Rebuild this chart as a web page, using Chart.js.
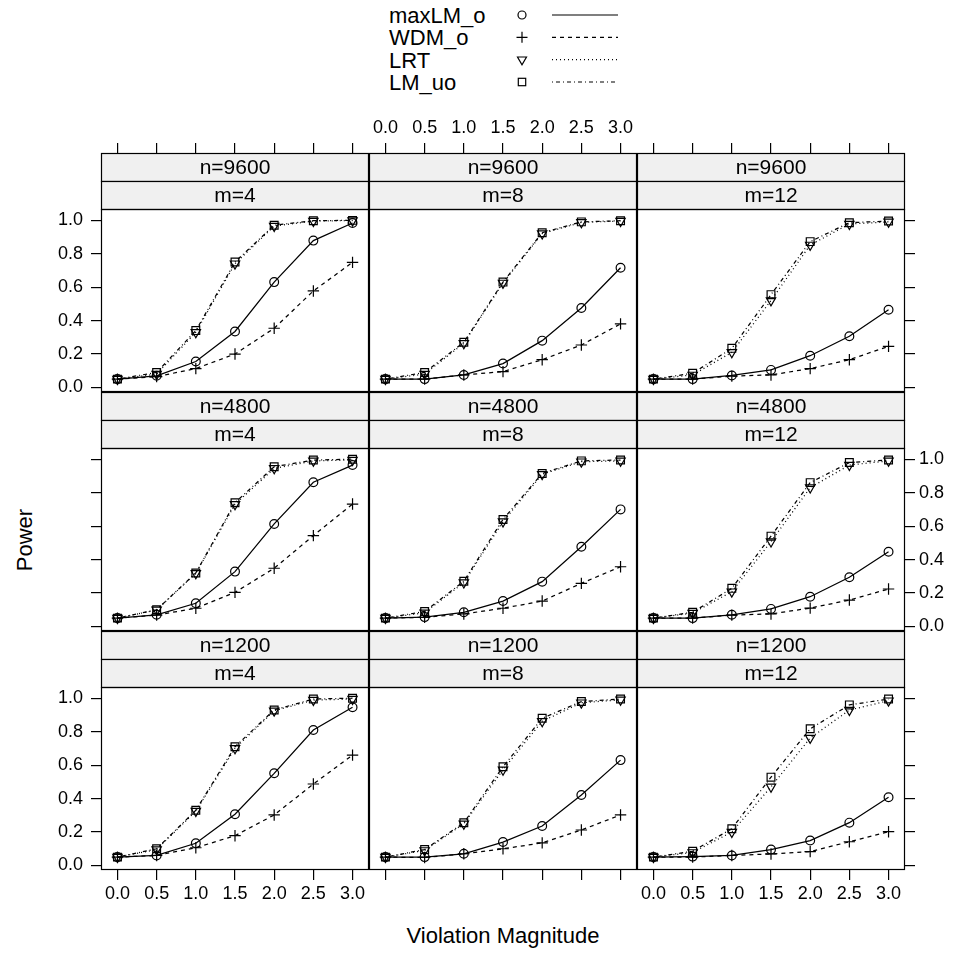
<!DOCTYPE html>
<html>
<head>
<meta charset="utf-8">
<title>Power by violation magnitude</title>
<script src="https://cdn.jsdelivr.net/npm/chart.js@4.4.1/dist/chart.umd.min.js"></script>
<style>
  body { margin: 0; background: #fff; font-family: "Liberation Sans", Arial, sans-serif; }
  #page { position: relative; width: 956px; height: 953px; overflow: hidden; background: #fff; }
  #page canvas { position: absolute; }
  .axis-title { position: absolute; font-size: 22px; color: #000; white-space: nowrap; }
</style>
</head>
<body>
<div id="page">
  <svg id="key" width="956" height="100" style="position:absolute;left:0;top:0"></svg>
  <div class="axis-title" style="left:25px;top:540px;transform:translate(-50%,-50%) rotate(-90deg)">Power</div>
  <div class="axis-title" style="left:503px;top:936px;transform:translate(-50%,-50%)">Violation Magnitude</div>
</div>
<script>
const magnitudes = [0, 0.5, 1.0, 1.5, 2.0, 2.5, 3.0];
const sampleSizes = [9600, 4800, 1200];   // panel rows
const mValues = [4, 8, 12];               // panel columns
const xTicks = [0, 0.5, 1.0, 1.5, 2.0, 2.5, 3.0];
const yTicks = [0, 0.2, 0.4, 0.6, 0.8, 1.0];

// power values, [row][col][magnitude]
const maxLM_o = [
  [[0.05, 0.07, 0.155, 0.335, 0.63, 0.878, 0.983],
   [0.05, 0.05, 0.075, 0.143, 0.28, 0.475, 0.716],
   [0.05, 0.05, 0.072, 0.105, 0.19, 0.306, 0.465]],
  [[0.05, 0.07, 0.139, 0.328, 0.613, 0.862, 0.965],
   [0.05, 0.056, 0.085, 0.152, 0.268, 0.477, 0.70],
   [0.05, 0.05, 0.07, 0.105, 0.178, 0.294, 0.447]],
  [[0.05, 0.06, 0.133, 0.306, 0.551, 0.81, 0.946],
   [0.05, 0.05, 0.07, 0.14, 0.236, 0.421, 0.63],
   [0.05, 0.053, 0.06, 0.095, 0.149, 0.256, 0.408]]
];
const WDM_o = [
  [[0.05, 0.065, 0.113, 0.2, 0.354, 0.577, 0.748],
   [0.05, 0.05, 0.075, 0.095, 0.166, 0.254, 0.38],
   [0.05, 0.05, 0.068, 0.075, 0.113, 0.166, 0.246]],
  [[0.05, 0.068, 0.109, 0.204, 0.348, 0.543, 0.732],
   [0.05, 0.055, 0.075, 0.109, 0.152, 0.258, 0.357],
   [0.05, 0.05, 0.068, 0.075, 0.11, 0.158, 0.224]],
  [[0.05, 0.06, 0.106, 0.178, 0.302, 0.487, 0.66],
   [0.05, 0.048, 0.07, 0.1, 0.135, 0.212, 0.302],
   [0.05, 0.05, 0.06, 0.069, 0.083, 0.142, 0.202]]
];
const LRT = [
  [[0.05, 0.08, 0.33, 0.74, 0.965, 0.995, 0.998],
   [0.05, 0.08, 0.264, 0.625, 0.92, 0.987, 0.995],
   [0.05, 0.075, 0.21, 0.52, 0.852, 0.977, 0.99]],
  [[0.05, 0.099, 0.318, 0.73, 0.945, 0.99, 0.995],
   [0.05, 0.082, 0.262, 0.627, 0.91, 0.985, 0.99],
   [0.05, 0.08, 0.208, 0.507, 0.83, 0.965, 0.99]],
  [[0.05, 0.095, 0.325, 0.70, 0.925, 0.989, 0.995],
   [0.05, 0.09, 0.249, 0.572, 0.862, 0.973, 0.99],
   [0.05, 0.078, 0.2, 0.47, 0.762, 0.929, 0.985]]
];
const LM_uo = [
  [[0.05, 0.09, 0.34, 0.75, 0.97, 0.997, 0.999],
   [0.05, 0.09, 0.27, 0.63, 0.925, 0.99, 0.997],
   [0.05, 0.085, 0.234, 0.555, 0.872, 0.985, 0.995]],
  [[0.05, 0.1, 0.32, 0.74, 0.955, 0.995, 1.0],
   [0.05, 0.09, 0.27, 0.64, 0.915, 0.99, 0.995],
   [0.05, 0.085, 0.228, 0.54, 0.86, 0.98, 0.995]],
  [[0.05, 0.1, 0.33, 0.71, 0.93, 0.995, 1.0],
   [0.05, 0.095, 0.255, 0.59, 0.88, 0.98, 0.995],
   [0.05, 0.085, 0.22, 0.528, 0.817, 0.96, 0.995]]
];

// drawing styles for each method (lattice-ish b/w)
const methods = [
  { label: 'maxLM_o', values: maxLM_o, point: 'circle', radius: 4.4, rot: 0, dash: [] },
  { label: 'WDM_o', values: WDM_o, point: 'cross', radius: 5.7, rot: 0, dash: [4, 4] },
  { label: 'LRT', values: LRT, point: 'triangle', radius: 5.4, rot: 180, dash: [1, 3] },
  { label: 'LM_uo', values: LM_uo, point: 'rect', radius: 5.5, rot: 0, dash: [1, 3, 4, 3] }
];

// layout
const colLeft = [101, 369, 637];
const plotTop = [209, 448, 687];
const PANEL_W = 268, PANEL_H = 183, STRIP_H = 28;
const SIDE = 60, BOTTOM = 40, TOPAXIS = 50;
const FONT = '"Liberation Sans", Arial, sans-serif';
const TICK_FONT = { family: FONT, size: 18 };

Chart.defaults.font.family = FONT;
Chart.defaults.color = '#000';

const fixWidth = w => s => { s.width = w; s.paddingTop = 0; s.paddingBottom = 0; };
const fixHeight = h => s => { s.height = h; s.paddingLeft = 0; s.paddingRight = 0; };
const setTicks = vals => s => { s.ticks = vals.map(v => ({ value: v })); };

// strips + panel box
const panelFrame = {
  id: 'panelFrame',
  afterDraw(chart, args, opts) {
    const { ctx, chartArea: a } = chart;
    ctx.save();
    ctx.lineWidth = 1.2;
    ctx.strokeStyle = '#000';
    const texts = [opts.top, opts.bottom];
    for (let i = 0; i < 2; i++) {
      const y = a.top - STRIP_H * (2 - i);
      ctx.fillStyle = '#f0f0f0';
      ctx.fillRect(a.left, y, a.right - a.left, STRIP_H);
      ctx.strokeRect(a.left + 0.5, y + 0.5, a.right - a.left - 1, STRIP_H);
      ctx.fillStyle = '#000';
      ctx.font = '21px ' + FONT;
      ctx.textAlign = 'center';
      ctx.textBaseline = 'middle';
      ctx.fillText(texts[i], (a.left + a.right) / 2, y + STRIP_H / 2 + 1);
    }
    ctx.strokeRect(a.left + 0.5, a.top + 0.5, a.right - a.left - 1, a.bottom - a.top - 1);
    ctx.restore();
  }
};

function axisX(position, weight, size, marks, labels, pad) {
  return {
    type: 'linear', position, weight, min: -0.21, max: 3.21,
    afterFit: fixHeight(size),
    afterBuildTicks: setTicks(xTicks),
    border: { display: false },
    grid: { display: marks, drawOnChartArea: false, drawTicks: true, tickLength: 10, color: '#000', lineWidth: 1.2 },
    ticks: { display: labels, font: TICK_FONT, color: '#000', padding: pad,
             maxRotation: 0, minRotation: 0, autoSkip: false, callback: v => v.toFixed(1) }
  };
}
function axisY(position, marks, labels, pad) {
  return {
    type: 'linear', position, min: -0.027, max: 1.067,
    afterFit: fixWidth(SIDE),
    afterBuildTicks: setTicks(yTicks),
    border: { display: false },
    grid: { display: marks, drawOnChartArea: false, drawTicks: true, tickLength: 10, color: '#000', lineWidth: 1.2 },
    ticks: { display: labels, font: TICK_FONT, color: '#000', padding: pad,
             autoSkip: false, callback: v => v.toFixed(1) }
  };
}

const page = document.getElementById('page');
for (let r = 0; r < 3; r++) {
  for (let c = 0; c < 3; c++) {
    const canvas = document.createElement('canvas');
    const w = PANEL_W + 2 * SIDE;
    const h = PANEL_H + 2 * STRIP_H + TOPAXIS + BOTTOM;
    canvas.width = w; canvas.height = h;
    canvas.style.left = (colLeft[c] - SIDE) + 'px';
    canvas.style.top = (plotTop[r] - 2 * STRIP_H - TOPAXIS) + 'px';
    canvas.style.width = w + 'px'; canvas.style.height = h + 'px';
    page.appendChild(canvas);

    const datasets = methods.map((m, i) => ({
      label: m.label,
      data: magnitudes.map((x, k) => ({ x, y: m.values[r][c][k] })),
      borderColor: '#000',
      borderWidth: 1.25,
      borderDash: m.dash,
      tension: 0,
      fill: false,
      pointStyle: m.point,
      pointRadius: m.radius,
      pointRotation: m.rot,
      pointBorderColor: '#000',
      pointBackgroundColor: 'rgba(0,0,0,0)',
      pointBorderWidth: 1.2,
      order: methods.length - i
    }));

    new Chart(canvas, {
      type: 'line',
      data: { datasets },
      options: {
        responsive: false,
        animation: false,
        devicePixelRatio: 1,
        events: [],
        layout: { padding: 0 },
        scales: {
          x: axisX('bottom', 0, BOTTOM, r === 2, r === 2 && c !== 1, 3),
          xStrip: { type: 'linear', position: 'top', weight: 1, min: -0.21, max: 3.21,
                    afterFit: fixHeight(2 * STRIP_H), border: { display: false },
                    grid: { display: false }, ticks: { display: false } },
          xTop: axisX('top', 2, TOPAXIS, r === 0, r === 0 && c === 1, 4),
          y: axisY('left', c === 0, c === 0 && r !== 1, 8),
          yRight: axisY('right', c === 2, c === 2 && r === 1, 4)
        },
        plugins: {
          legend: { display: false },
          tooltip: { enabled: false },
          panelFrame: { top: 'n=' + sampleSizes[r], bottom: 'm=' + mValues[c] }
        }
      },
      plugins: [panelFrame]
    });
  }
}

// key at the top: label, symbol, line sample
const key = document.getElementById('key');
const NS = 'http://www.w3.org/2000/svg';
const keyY = [15, 37.3, 59.6, 82];
const mk = (tag, attrs) => {
  const el = document.createElementNS(NS, tag);
  for (const k in attrs) el.setAttribute(k, attrs[k]);
  key.appendChild(el);
  return el;
};
methods.forEach((m, i) => {
  const y = keyY[i], sx = 522;
  const t = mk('text', { x: 389, y: y + 8, 'font-size': 22, 'font-family': FONT, fill: '#000' });
  t.textContent = m.label;
  const st = { fill: 'none', stroke: '#000', 'stroke-width': 1.2 };
  if (m.point === 'circle') mk('circle', Object.assign({ cx: sx, cy: y, r: 4 }, st));
  if (m.point === 'cross') mk('path', Object.assign({ d: `M${sx - 5.5} ${y}H${sx + 5.5}M${sx} ${y - 5.5}V${y + 5.5}` }, st));
  if (m.point === 'triangle') mk('path', Object.assign({ d: `M${sx - 4.5} ${y - 2.6}H${sx + 4.5}L${sx} ${y + 5.2}Z` }, st));
  if (m.point === 'rect') mk('rect', Object.assign({ x: sx - 3.7, y: y - 3.7, width: 7.4, height: 7.4 }, st));
  mk('line', Object.assign({ x1: 552, y1: y, x2: 618, y2: y, 'stroke-dasharray': m.dash.length ? m.dash.join(' ') : 'none' }, st));
});
</script>
</body>
</html>
